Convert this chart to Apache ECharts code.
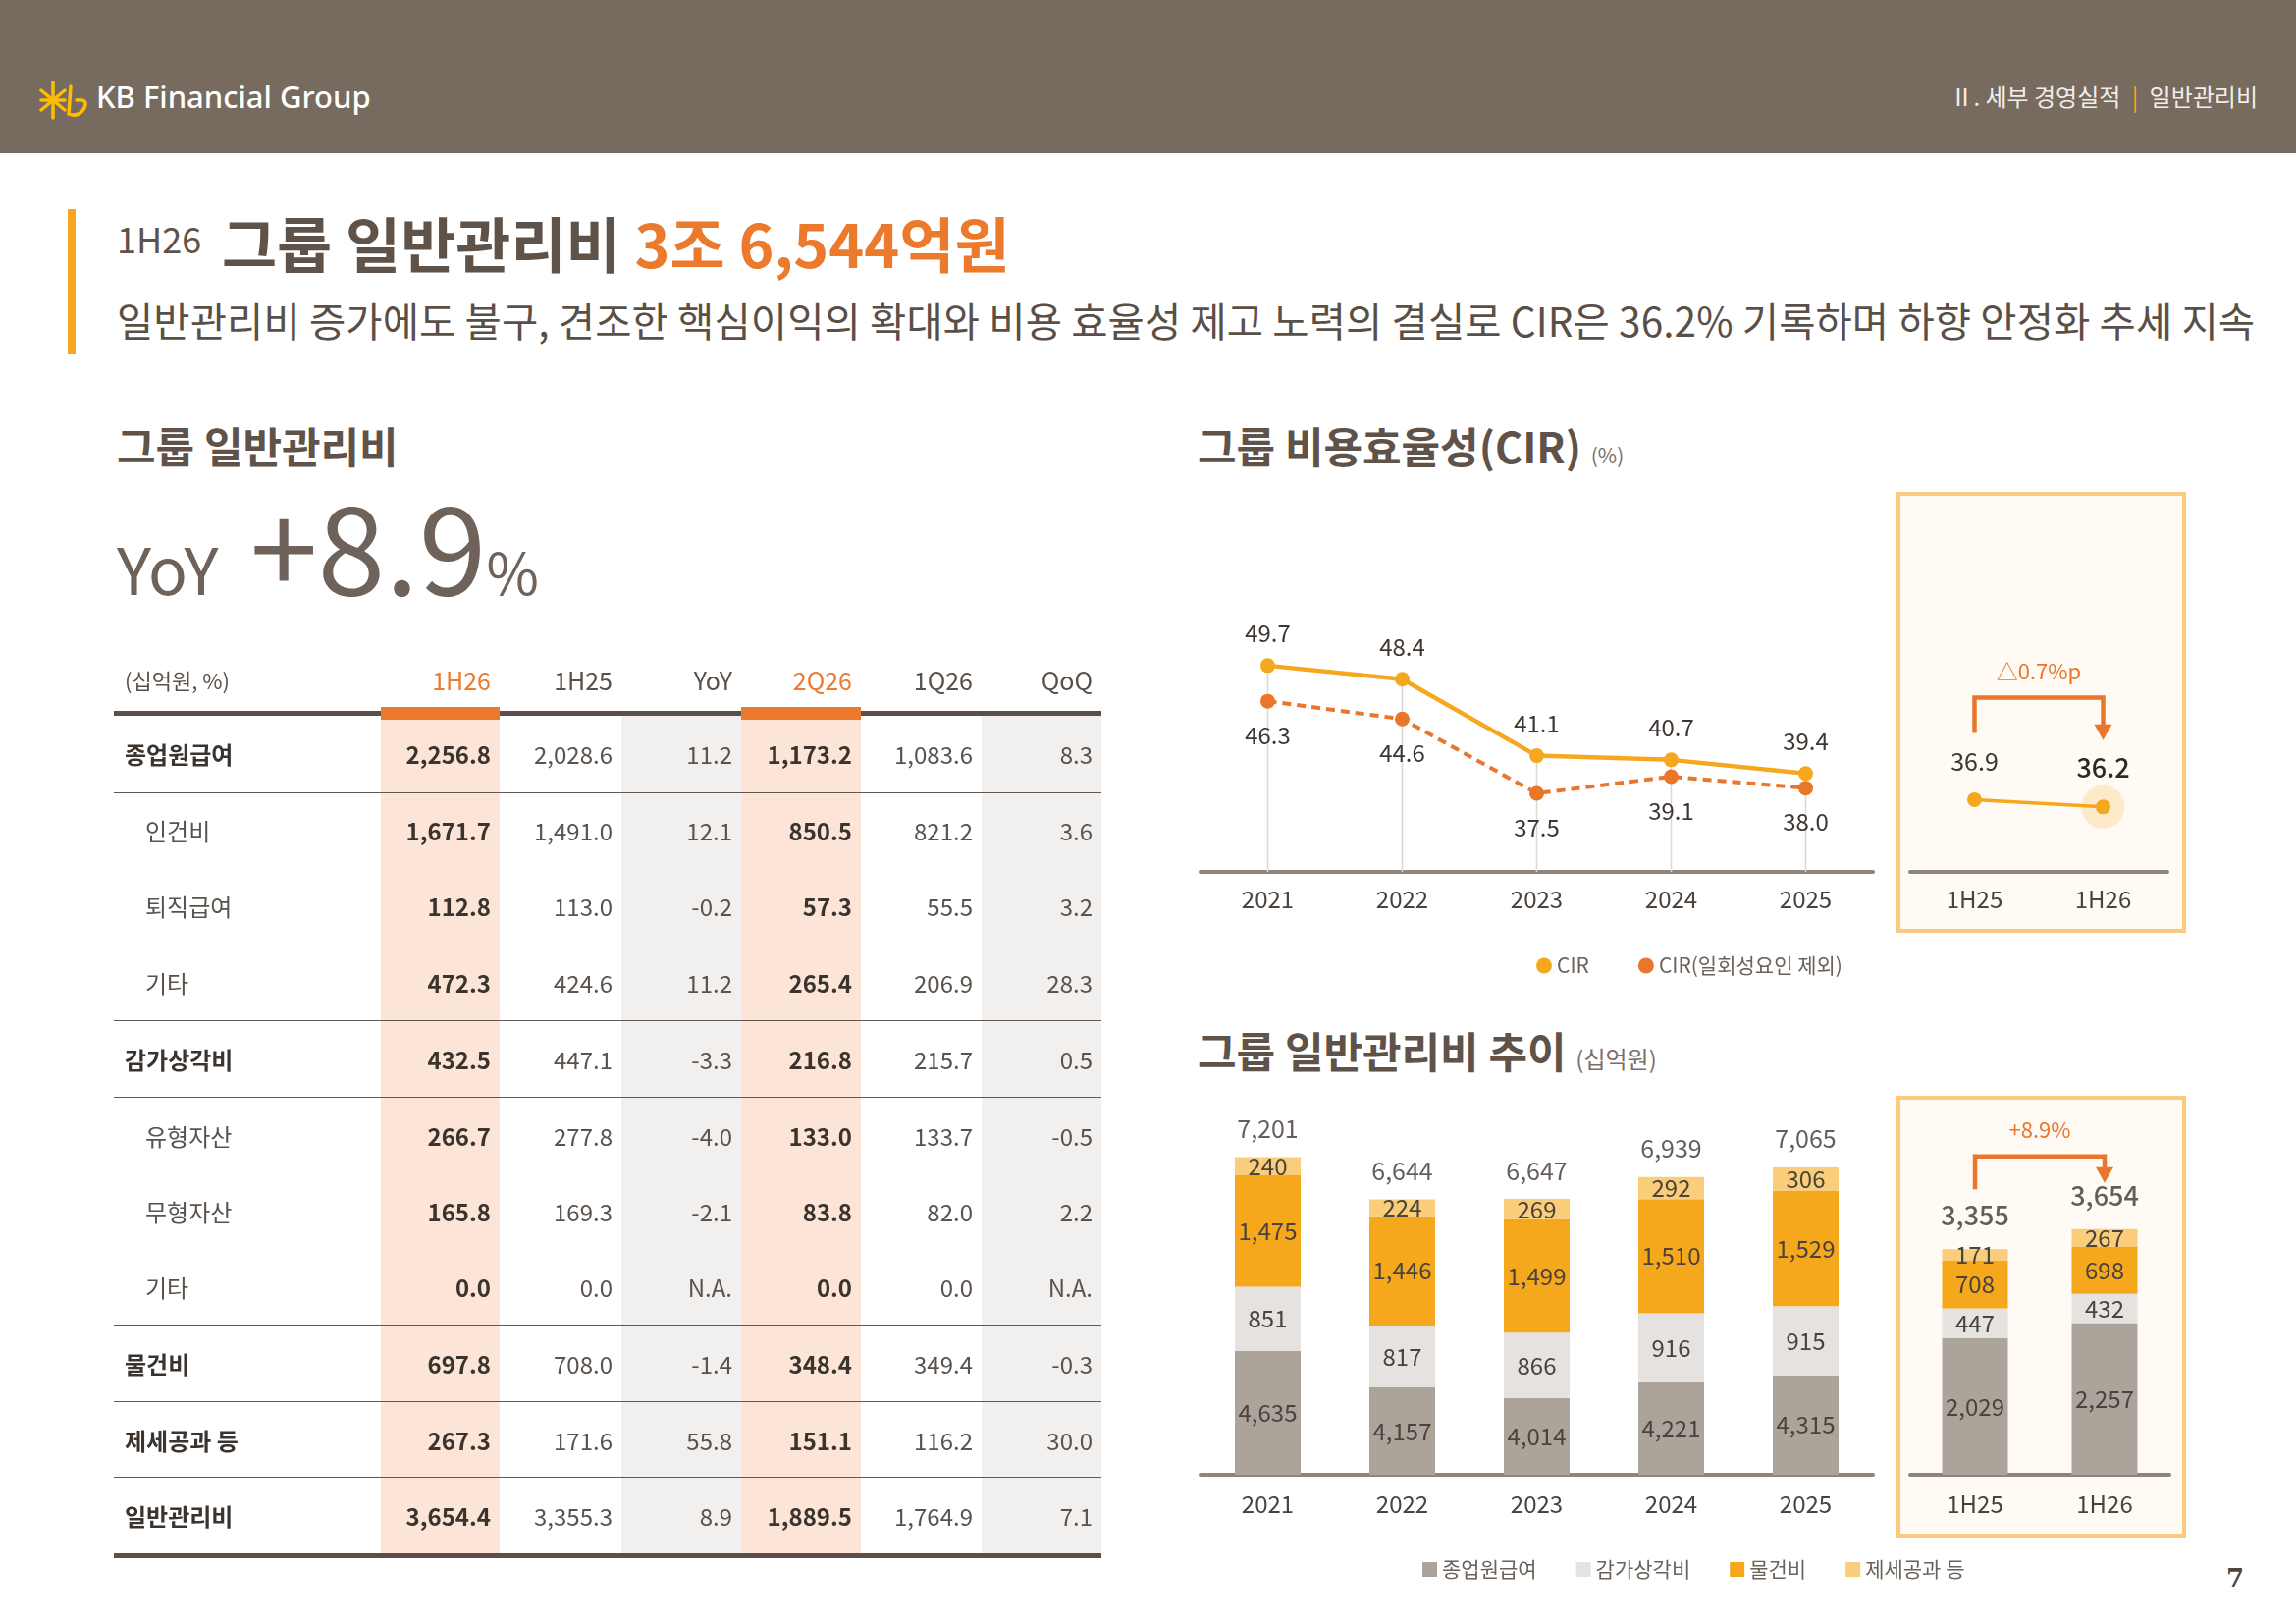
<!DOCTYPE html>
<html>
<head>
<meta charset="utf-8">
<script src="https://cdn.jsdelivr.net/npm/echarts@6/dist/echarts.min.js"></script>
<style>
  body { margin: 0; }
  #page { position: relative; width: 2339px; height: 1654px; background: #fff; overflow: hidden;
          font-family: 'Noto Sans CJK KR', 'Noto Sans', sans-serif; color: #5e5249; }
  .abs { position: absolute; white-space: nowrap; line-height: 1; }
  #topbar { position: absolute; left: 0; top: 0; width: 2339px; height: 156px; background: #776b5f; }
  .box { position: absolute; box-sizing: border-box; border: 4.5px solid #facb7e; background: #fffaf4; z-index: 1; }
  #chart { position: absolute; left: 0; top: 0; width: 2339px; height: 1654px; z-index: 2; }
  #tbl { position: absolute; left: 116px; top: 660px; width: 1006px; z-index: 3; }
  .row { display: flex; box-sizing: border-box; }
  .cell { box-sizing: border-box; display: flex; align-items: center; justify-content: flex-end;
          padding-right: 9px; font-size: 24px; color: #5a524c; height: 100%; }
</style>
</head>
<body>
<div id="page">
  <div id="topbar"></div>
  <svg class="abs" style="left:40px;top:82px" width="56" height="40" viewBox="0 0 56 40">
    <g stroke="#ffbc00" stroke-width="3.5" stroke-linecap="round" fill="none">
      <line x1="14" y1="2" x2="14" y2="38"/>
      <line x1="2" y1="10" x2="26" y2="30"/>
      <line x1="26" y1="10" x2="2" y2="30"/>
      <line x1="2" y1="20" x2="26" y2="20"/>
      <path d="M32 6 L30 34 Q40 38 46 28 Q50 18 38 20"/>
    </g>
  </svg>
  <div class="abs" style="left:98px;top:83px;font-size:31px;color:#fff;font-family:'Noto Sans',sans-serif;font-weight:500">KB Financial Group</div>
  <div class="abs" style="right:39px;top:86px;font-size:24px;color:#f3eee9">Ⅱ. 세부 경영실적 <span style="color:#f6a81e;margin:0 6px">|</span> 일반관리비</div>

  <div class="abs" style="left:69px;top:213px;width:8px;height:148px;background:#f5a51e"></div>
  <div class="abs" style="left:119px;top:224px;font-size:36px;color:#5e5249">1H26</div>
  <div class="abs" style="left:226px;top:216px;font-size:61px;font-weight:700;color:#5e5249">그룹 일반관리비 <span style="color:#ec7a2c">3조 6,544억원</span></div>
  <div class="abs" style="left:119px;top:306px;font-size:40.5px;letter-spacing:0.1px;color:#5a4f47">일반관리비 증가에도 불구, 견조한 핵심이익의 확대와 비용 효율성 제고 노력의 결실로 CIR은 36.2% 기록하며 하향 안정화 추세 지속</div>

  <div class="abs" style="left:119px;top:432px;font-size:43px;font-weight:700;color:#5e5249">그룹 일반관리비</div>
  <div class="abs" style="left:119px;top:490px;font-size:124px;color:#6e625a;display:flex;align-items:baseline">
    <span style="font-size:66px;margin-right:32px">YoY</span><span>+8.9</span><span style="font-size:58px">%</span>
  </div>

  <div class="abs" style="left:1220px;top:432px;font-size:43px;font-weight:700;color:#5e5249">그룹 비용효율성(CIR) <span style="font-size:21px;font-weight:400;color:#7a7069">(%)</span></div>
  <div class="abs" style="left:1220px;top:1048px;font-size:43px;font-weight:700;color:#5e5249">그룹 일반관리비 추이 <span style="font-size:24px;font-weight:400;color:#7a7069">(십억원)</span></div>

  <div class="box" style="left:1932px;top:501px;width:295px;height:449px"></div>
  <div class="box" style="left:1932px;top:1116px;width:295px;height:450px"></div>

  <div class="abs" style="left:2268px;top:1594px;font-size:26px;font-weight:700;color:#4e453f;font-family:'DejaVu Serif',serif">7</div>

  <div id="tbl"></div>
  <div id="chart"></div>
</div>
<script>
// ---- table data (십억원, %) ----
const rowLabels = ['종업원급여', '인건비', '퇴직급여', '기타', '감가상각비', '유형자산', '무형자산', '기타', '물건비', '제세공과 등', '일반관리비'];
const rowIsSub = [0, 1, 1, 1, 0, 1, 1, 1, 0, 0, 0];
const colHeads = ['1H26', '1H25', 'YoY', '2Q26', '1Q26', 'QoQ'];
const col1H26 = [2256.8, 1671.7, 112.8, 472.3, 432.5, 266.7, 165.8, 0.0, 697.8, 267.3, 3654.4];
const col1H25 = [2028.6, 1491.0, 113.0, 424.6, 447.1, 277.8, 169.3, 0.0, 708.0, 171.6, 3355.3];
const colYoY = [11.2, 12.1, -0.2, 11.2, -3.3, -4.0, -2.1, null, -1.4, 55.8, 8.9];
const col2Q26 = [1173.2, 850.5, 57.3, 265.4, 216.8, 133.0, 83.8, 0.0, 348.4, 151.1, 1889.5];
const col1Q26 = [1083.6, 821.2, 55.5, 206.9, 215.7, 133.7, 82.0, 0.0, 349.4, 116.2, 1764.9];
const colQoQ = [8.3, 3.6, 3.2, 28.3, 0.5, -0.5, 2.2, null, -0.3, 30.0, 7.1];

// ---- chart data ----
const years = ['2021', '2022', '2023', '2024', '2025'];
const halves = ['1H25', '1H26'];
const cir = [49.7, 48.4, 41.1, 40.7, 39.4];
const cirExOneOff = [46.3, 44.6, 37.5, 39.1, 38.0];
const cirHalf = [36.9, 36.2];
const salary = [4635, 4157, 4014, 4221, 4315];
const depreciation = [851, 817, 866, 916, 915];
const goods = [1475, 1446, 1499, 1510, 1529];
const taxes = [240, 224, 269, 292, 306];
const totals = [7201, 6644, 6647, 6939, 7065];
const salaryHalf = [2029, 2257];
const depreciationHalf = [447, 432];
const goodsHalf = [708, 698];
const taxesHalf = [171, 267];
const totalsHalf = [3355, 3654];

// ---- build table ----
const colW = [272, 121, 124, 122, 122, 123, 122];
const cols = [col1H26, col1H25, colYoY, col2Q26, col1Q26, colQoQ];
const colBg = ['#fce5d7', null, '#f2f0ee', '#fce5d7', null, '#f2f0ee'];
const colBold = [true, false, false, true, false, false];
const fmt = v => v === null ? 'N.A.' : v.toLocaleString('en-US', { minimumFractionDigits: 1, maximumFractionDigits: 1 });

const tbl = document.getElementById('tbl');
let html = '<div class="row" style="height:64px">';
html += '<div class="cell" style="width:' + colW[0] + 'px;justify-content:flex-start;padding-left:11px;font-size:22px;color:#5a5048">(십억원, %)</div>';
colHeads.forEach((h, i) => {
  const orange = colBold[i];
  html += '<div class="cell" style="width:' + colW[i + 1] + 'px;font-size:25px;color:' + (orange ? '#ec7a2c' : '#5a5048') + '">' + h + '</div>';
});
html += '</div>';
// header rule with orange markers
html += '<div style="position:relative;height:5px;background:#5b4f47">';
let x = colW[0];
colHeads.forEach((h, i) => {
  if (colBold[i]) html += '<div style="position:absolute;left:' + x + 'px;top:-4px;width:' + colW[i + 1] + 'px;height:13px;background:#ec7a2c"></div>';
  x += colW[i + 1];
});
html += '</div>';
const rowH = 77.55;
rowLabels.forEach((lab, r) => {
  const sub = rowIsSub[r];
  const line = r > 0 && !(sub && rowIsSub[r - 1]);
  html += '<div class="row" style="height:' + rowH + 'px;' + (line ? 'border-top:1.6px solid #625850;' : '') + '">';
  html += '<div class="cell" style="width:' + colW[0] + 'px;justify-content:flex-start;padding-left:' + (sub ? 32 : 11) + 'px;' +
    (sub ? 'color:#5a524c' : 'font-weight:700;color:#3b332e') + '">' + lab + '</div>';
  cols.forEach((c, i) => {
    html += '<div class="cell" style="width:' + colW[i + 1] + 'px;' + (colBg[i] ? 'background:' + colBg[i] + ';' : '') +
      (colBold[i] ? 'font-weight:700;color:#3b332e;' : '') + '">' + fmt(c[r]) + '</div>';
  });
  html += '</div>';
});
html += '<div style="height:5px;background:#5b4f47"></div>';
tbl.innerHTML = html;

// ---- charts ----
const chart = echarts.init(document.getElementById('chart'), null, { renderer: 'canvas' });
const FONT = "'Noto Sans CJK KR', 'Noto Sans', sans-serif";
const txt = '#3e3631';
const cGray = '#aca49b', cLight = '#e5e2df', cOrange = '#f6a81c', cYellow = '#f9cd7a';
const cCir = '#f5a81e', cCirEx = '#e9762b';

function xAx(gridIndex, data, margin) {
  return {
    type: 'category', gridIndex: gridIndex, data: data,
    axisLine: { lineStyle: { color: '#8c847d', width: 4 } },
    axisTick: { show: false },
    axisLabel: { fontSize: 24, color: '#4a423c', margin: margin, fontFamily: FONT }
  };
}
function yAx(gridIndex, min, max) {
  return { type: 'value', gridIndex: gridIndex, min: min, max: max, show: false, splitLine: { show: false } };
}
const segLabel = {
  show: true, position: 'inside', fontSize: 24, color: '#4a433d', fontFamily: FONT,
  formatter: p => p.value.toLocaleString('en-US')
};
function stackBar(name, data, color, xi) {
  return {
    name: name, type: 'bar', stack: 'g' + xi, xAxisIndex: xi, yAxisIndex: xi,
    data: data, barWidth: 67, itemStyle: { color: color }, label: segLabel, silent: true
  };
}
function totalSeries(data, xi, dist, size, weight) {
  return {
    name: 'total', type: 'scatter', xAxisIndex: xi, yAxisIndex: xi, data: data,
    symbolSize: 1, itemStyle: { color: 'rgba(0,0,0,0)' }, silent: true,
    label: { show: true, position: 'top', distance: dist, fontSize: size, fontWeight: weight, color: txt, fontFamily: FONT,
      formatter: p => p.value.toLocaleString('en-US') }
  };
}

const option = {
  animation: false,
  textStyle: { fontFamily: FONT },
  grid: [
    { left: 1223, top: 600, width: 685, height: 288 },
    { left: 1946, top: 600, width: 262, height: 288 },
    { left: 1223, top: 1117, width: 685, height: 385 },
    { left: 1946, top: 1228, width: 264, height: 274 }
  ],
  xAxis: [xAx(0, years, 16), xAx(1, halves, 16), xAx(2, years, 18), xAx(3, halves, 18)],
  yAxis: [yAx(0, 30, 57), yAx(1, 30, 57), yAx(2, 3000, 8000), yAx(3, 0, 4000)],
  legend: [
    { left: 1560, top: 968, icon: 'circle', itemWidth: 16, itemHeight: 16, itemGap: 50,
      textStyle: { fontSize: 21, color: '#6b625a' }, data: ['CIR', 'CIR(일회성요인 제외)'], selectedMode: false },
    { left: 1444, top: 1583, icon: 'rect', itemWidth: 15, itemHeight: 15, itemGap: 40,
      textStyle: { fontSize: 21, color: '#6b625a' }, data: ['종업원급여', '감가상각비', '물건비', '제세공과 등'], selectedMode: false }
  ],
  series: [
    { name: 'drop', type: 'bar', xAxisIndex: 0, yAxisIndex: 0, data: cir, barWidth: 1.5,
      itemStyle: { color: '#dcd8d4' }, silent: true, z: 1 },
    { name: 'CIR', type: 'line', xAxisIndex: 0, yAxisIndex: 0, data: cir, symbol: 'circle', symbolSize: 15,
      itemStyle: { color: cCir }, lineStyle: { color: cCir, width: 4.5 }, z: 4,
      label: { show: true, position: 'top', distance: 13, fontSize: 24, color: txt } },
    { name: 'CIR(일회성요인 제외)', type: 'line', xAxisIndex: 0, yAxisIndex: 0, data: cirExOneOff, symbol: 'circle', symbolSize: 15,
      itemStyle: { color: cCirEx }, lineStyle: { color: cCirEx, width: 4, type: [9, 6] }, z: 3,
      label: { show: true, position: 'bottom', distance: 15, fontSize: 24, color: txt, formatter: p => p.value.toFixed(1) } },
    { name: 'halo', type: 'scatter', xAxisIndex: 1, yAxisIndex: 1,
      data: cirHalf.map((v, i) => i === cirHalf.length - 1 ? v : '-'), symbolSize: 44,
      itemStyle: { color: 'rgba(249,205,130,0.45)' }, silent: true, z: 2 },
    { name: 'CIR', type: 'line', xAxisIndex: 1, yAxisIndex: 1, data: cirHalf, symbol: 'circle', symbolSize: 15,
      itemStyle: { color: cCir }, lineStyle: { color: cCir, width: 3.5 }, z: 4,
      label: { show: true, position: 'top', distance: 19, fontSize: 25, color: txt,
        formatter: p => p.dataIndex === cirHalf.length - 1 ? '{b|' + p.value + '}' : p.value,
        rich: { b: { fontSize: 27, fontWeight: 500, color: '#2f2823' } } } },
    stackBar('종업원급여', salary, cGray, 2),
    stackBar('감가상각비', depreciation, cLight, 2),
    stackBar('물건비', goods, cOrange, 2),
    stackBar('제세공과 등', taxes, cYellow, 2),
    totalSeries(totals, 2, 16, 25, 400),
    stackBar('종업원급여', salaryHalf, cGray, 3),
    stackBar('감가상각비', depreciationHalf, cLight, 3),
    stackBar('물건비', goodsHalf, cOrange, 3),
    stackBar('제세공과 등', taxesHalf, cYellow, 3),
    totalSeries(totalsHalf, 3, 20, 27, 500)
  ]
};
chart.setOption(option);

// change annotations, anchored to the data points
function bracket(xi, cats, vals, rise, leftGap, rightGap, label) {
  const pL = chart.convertToPixel({ xAxisIndex: xi, yAxisIndex: xi }, [cats[0], vals[0]]);
  const pR = chart.convertToPixel({ xAxisIndex: xi, yAxisIndex: xi }, [cats[1], vals[1]]);
  const top = Math.min(pL[1], pR[1]) - rise;
  const bl = pL[1] - leftGap, tip = pR[1] - rightGap;
  const col = '#e9762b';
  return [
    { type: 'polyline', z: 10, shape: { points: [[pL[0], bl], [pL[0], top], [pR[0], top], [pR[0], tip - 12]] },
      style: { stroke: col, lineWidth: 4.5, fill: null } },
    { type: 'polygon', z: 10, shape: { points: [[pR[0] - 9, tip - 16], [pR[0] + 9, tip - 16], [pR[0], tip]] },
      style: { fill: col } },
    { type: 'text', z: 10, x: (pL[0] + pR[0]) / 2, y: top - 27,
      style: { text: label, fill: col, fontSize: 22, fontFamily: FONT, align: 'center', verticalAlign: 'middle' } }
  ];
}
chart.setOption({
  graphic: [].concat(
    bracket(1, halves, cirHalf, 104, 68, 68, '△0.7%p'),
    bracket(3, halves, totalsHalf, 74, 61, 47, '+8.9%')
  )
});
</script>
</body>
</html>
